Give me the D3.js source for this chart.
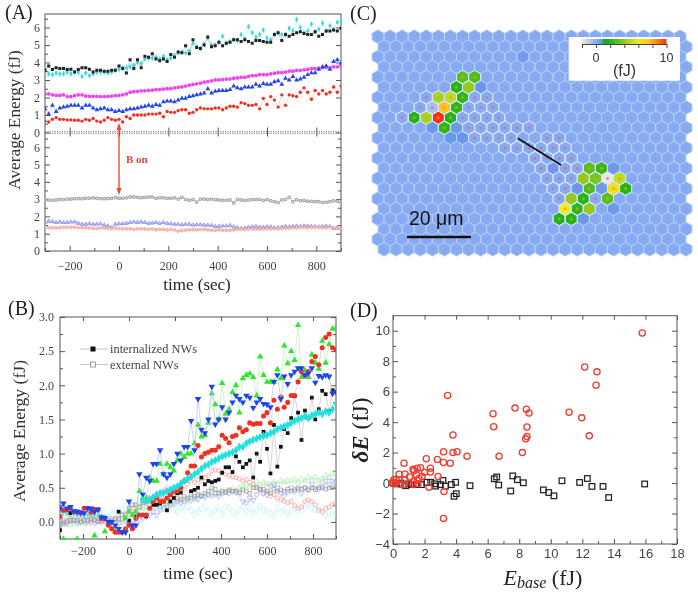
<!DOCTYPE html>
<html><head><meta charset="utf-8">
<script src="https://cdnjs.cloudflare.com/ajax/libs/d3/7.8.5/d3.min.js"></script>
<style>html,body{margin:0;padding:0;background:#fff}svg{display:block;filter:blur(.3px)}
.ser{font-family:"Liberation Serif",serif}.san{font-family:"Liberation Sans",sans-serif}</style>
</head><body><svg id="c" width="698" height="596"></svg>
<script>
// ---------- Panel A ----------
const aBlack=[3.55,3.8,3.6,3.7,3.65,3.65,3.6,3.62,3.45,3.6,3.7,3.7,3.62,3.45,3.55,3.55,3.5,3.5,3.55,3.55,3.8,3.65,3.4,4.15,3.65,4.15,3.7,4.35,4.3,4.5,4.2,4.1,4.2,4.05,4.45,4.3,4.6,4.55,4.95,4.5,5.3,4.85,4.8,5.0,5.45,4.9,4.95,5.15,4.95,5.1,5.15,5.3,5.3,5.2,5.3,5.2,5.1,5.25,5.25,5.2,5.15,5.15,5.6,5.7,5.25,5.6,5.5,5.6,5.7,5.75,5.65,5.6,5.6,5.75,5.5,5.6,5.8,5.8,5.85,5.8,5.95];
const aCyan=[3.2,3.35,3.3,3.4,3.35,3.35,3.45,3.35,3.45,3.45,3.2,3.4,3.25,3.35,3.45,3.45,3.45,3.4,3.45,3.55,3.6,3.7,3.7,3.75,3.85,4.0,3.95,4.2,4.25,4.25,4.3,4.2,4.35,4.15,4.25,4.4,4.55,4.6,4.55,4.65,5.1,4.9,4.8,5.05,5.4,5.0,5.0,5.15,5.5,5.1,5.2,5.3,5.25,5.6,5.35,6.05,5.7,5.45,5.6,5.85,5.4,5.3,5.6,5.7,5.6,5.6,5.95,5.8,6.45,6.0,5.7,5.8,6.2,5.75,5.9,6.25,5.8,6.1,5.9,6.3,6.4];
const aMagenta=[2.2,2.2,2.15,2.12,2.12,2.15,2.05,2.05,2.1,2.15,2.15,2.08,2.07,2.07,2.07,2.05,2.05,2.07,2.08,2.1,2.12,2.15,2.2,2.3,2.33,2.35,2.38,2.38,2.4,2.42,2.45,2.45,2.48,2.5,2.5,2.55,2.58,2.6,2.65,2.7,2.75,2.78,2.82,2.88,2.9,2.95,3.0,3.0,3.02,3.05,3.05,3.1,3.12,3.15,3.15,3.2,3.25,3.25,3.3,3.3,3.3,3.35,3.38,3.42,3.42,3.45,3.5,3.5,3.55,3.55,3.58,3.6,3.65,3.65,3.68,3.7,3.72,3.7,3.75,3.75,3.8];
const aBlue=[1.35,1.05,1.55,1.2,1.4,1.45,1.5,1.55,1.55,1.55,1.4,1.55,1.55,1.4,1.3,1.35,1.4,1.3,1.3,1.2,1.25,1.2,1.3,1.35,1.35,1.4,1.45,1.5,1.55,1.5,1.6,1.55,1.75,1.8,1.8,1.75,1.85,1.95,1.95,2.05,2.1,2.15,2.2,2.25,2.5,2.25,2.35,2.4,2.4,2.4,2.45,2.65,2.55,2.5,2.6,2.6,2.6,2.75,2.65,2.8,2.75,2.75,2.9,2.95,2.75,3.1,3.0,3.2,3.0,3.05,3.15,3.3,3.4,3.4,3.6,3.75,3.8,3.6,4.05,4.15,3.95];
const aRed=[0.65,0.6,0.75,0.85,0.75,0.75,0.72,0.72,0.7,0.7,0.65,0.75,0.7,0.8,0.65,0.6,0.7,0.85,0.75,0.7,0.75,0.6,0.9,0.8,1.0,1.0,1.0,1.0,1.05,1.05,1.05,1.1,0.9,1.2,1.15,1.15,1.25,1.3,1.3,1.1,1.15,1.3,1.4,1.35,1.35,1.35,1.4,1.4,1.3,1.4,1.5,1.5,1.45,1.7,1.65,1.55,1.55,1.6,1.35,1.95,1.6,2.05,1.85,1.45,2.15,1.55,2.15,2.1,2.05,2.3,2.55,2.3,1.9,2.4,2.2,2.4,2.2,2.3,2.6,2.3,2.65];
const aGrayLow=[2.95,2.95,2.93,2.95,2.98,2.97,3.0,3.0,3.02,3.03,3.02,3.05,3.05,3.07,3.05,3.03,3.02,3.03,3.05,3.08,3.05,3.05,3.07,3.12,3.12,3.1,3.08,3.1,3.12,3.12,3.05,3.08,3.07,3.05,3.05,3.07,3.0,3.1,2.98,2.93,2.98,2.83,3.0,3.0,2.98,3.0,2.97,2.95,2.93,2.93,2.95,2.78,2.98,2.95,2.92,2.95,2.97,2.97,2.98,2.92,2.97,2.9,2.85,2.8,2.95,2.98,3.1,2.85,2.97,2.9,2.92,2.88,2.87,2.85,2.85,2.8,2.82,2.85,2.9,2.88,2.78];
const aBlueLow=[1.65,1.72,1.7,1.65,1.68,1.65,1.65,1.68,1.68,1.6,1.55,1.55,1.58,1.55,1.55,1.58,1.5,1.45,1.35,1.55,1.57,1.58,1.6,1.65,1.68,1.65,1.68,1.65,1.6,1.62,1.65,1.6,1.65,1.6,1.58,1.55,1.55,1.52,1.55,1.55,1.5,1.52,1.53,1.5,1.5,1.48,1.42,1.42,1.45,1.45,1.48,1.4,1.35,1.3,1.33,1.38,1.4,1.42,1.38,1.38,1.4,1.4,1.35,1.35,1.38,1.42,1.4,1.42,1.45,1.42,1.45,1.45,1.42,1.42,1.4,1.42,1.45,1.42,1.3,1.35,1.3];
const aRedLow=[1.4,1.35,1.35,1.33,1.35,1.37,1.37,1.37,1.37,1.35,1.35,1.35,1.33,1.3,1.3,1.33,1.33,1.3,1.3,1.32,1.3,1.28,1.28,1.28,1.25,1.28,1.28,1.27,1.25,1.27,1.23,1.25,1.25,1.22,1.25,1.22,1.15,1.18,1.2,1.23,1.23,1.22,1.25,1.25,1.22,1.2,1.2,1.22,1.2,1.2,1.2,1.22,1.25,1.27,1.25,1.27,1.28,1.28,1.27,1.27,1.3,1.28,1.3,1.28,1.3,1.32,1.32,1.35,1.33,1.37,1.37,1.35,1.37,1.38,1.38,1.35,1.35,1.38,1.35,1.3,1.28];
const aErrCyan=0.22, aErrBlack=0.08;
const timeTicks=[-200,0,200,400,600,800];
const aUpperTicks=[0,1,2,3,4,5,6], aLowerTicks=[0,1,2,3,4,5,6];
// ---------- Panel B ----------
const _=null;
const bBlack=[-.12,_,_,.13,_,_,_,_,_,_,_,_,_,_,_,-.1,_,.15,_,_,.02,_,.08,.1,.1,.08,_,.25,.25,.27,_,.17,.3,.35,.42,.43,_,_,.45,.47,.5,.65,.55,.6,.58,.6,.62,.72,.8,.8,.73,.96,.88,.8,.85,.9,.65,1.0,.88,1.32,1.07,.71,1.42,.81,1.1,1.36,1.3,1.52,1.84,1.6,1.2,1.63,1.52,1.82,1.5,1.65,1.92,1.87,1.62,1.93,1.9];
const bRed=[.08,.17,.18,.2,.15,.15,.13,.2,.2,.14,.18,.18,.05,.05,-.05,-.1,-.15,-.15,-.15,-.1,-.05,-.1,.05,.1,.1,.1,.2,.3,.35,.3,.3,.35,.4,.45,.45,.5,.6,.72,.82,.82,1.12,.95,1.0,1.02,1.05,1.05,1.1,1.27,1.22,1.16,1.25,1.27,1.38,1.32,1.35,1.45,1.43,1.44,1.44,1.55,1.6,1.45,1.78,1.65,1.83,1.68,1.75,1.85,1.85,2.05,2.2,2.15,2.2,2.35,2.42,2.3,2.55,2.7,2.75,2.55,2.52];
const bGreen=[_,-.25,_,_,_,-.25,_,_,_,_,-.2,_,_,-.14,_,_,-.14,-.15,_,.05,.15,.1,.15,.45,.35,.35,.65,.6,.6,.85,.7,.85,.8,.75,.9,1.0,.95,1.0,1.0,1.15,1.42,1.25,1.27,1.45,1.88,1.72,1.5,2.03,1.58,1.65,1.9,2.0,1.6,2.1,2.15,2.17,2.12,1.85,2.42,2.15,2.05,2.05,2.05,2.23,2.1,2.58,2.32,2.5,2.37,2.88,2.12,2.22,2.12,2.45,2.33,2.24,2.65,2.33,2.6,2.83,2.83];
const bBlueDn=[.2,.27,.2,.22,.16,.15,.14,.13,.2,.2,.15,.18,.07,.06,0,0,-.05,-.1,-.15,-.15,.3,-.05,-.05,.7,.4,.65,.6,.85,.85,1.05,.7,.65,.7,.85,1.0,.9,1.1,1.1,1.48,1.05,1.8,1.35,1.3,1.5,1.98,1.43,1.5,1.68,1.5,1.6,1.75,1.85,1.8,1.75,1.85,1.82,1.67,1.75,1.8,1.73,1.72,1.68,2.05,2.15,1.8,2.13,2.02,2.15,2.2,2.25,2.25,2.15,2.18,2.25,2.04,2.14,2.12,2.15,2.13,1.88,1.9];
const bCyanEarly=[.15,.14,.13,.12,.12,.11,.1,.1,.11,.09,.09,.1,.08,.06,_,_,_,_,_,_,_,_,_,_,_,_,_,_,_,_,_,_,_,_,_,_,_,_,_,_,_,_,_,_,_,_,_,_,_,_,_,_,_,_,_,_,_,_,_,_,_,_,_,_,_,_,_,_,_,_,_,_,_,_,_,_,_,_,_,_,_];
const bCyan=[_,_,_,_,_,_,_,_,_,_,_,_,_,_,_,_,_,_,_,_,_,_,_,_,.32,.31,.33,.36,.4,.42,.42,.45,.47,.5,.52,.56,.6,.63,.66,.7,.73,.78,.82,.84,.88,.9,.93,.96,.98,1.0,1.02,1.05,1.1,1.1,1.15,1.18,1.2,1.22,1.24,1.26,1.27,1.3,1.32,1.36,1.38,1.4,1.42,1.45,1.48,1.5,1.52,1.55,1.52,1.56,1.58,1.6,1.58,1.62,1.6,1.65,1.73];
const bExtBlack=[-.05,-.03,0,.02,.03,.02,0,.03,.02,.05,.03,0,.02,.05,.02,0,.03,.05,.1,.12,.2,.25,.25,.22,.28,.3,.3,.28,.3,.33,.32,.3,.35,.38,.35,.33,.38,.35,.4,.38,.4,.38,.42,.45,.5,.48,.42,.45,.43,.47,.45,.45,.43,.47,.45,.42,.5,.5,.47,.48,.45,.42,.48,.45,.47,.45,.48,.45,.47,.5,.48,.5,.47,.5,.47,.5,.5,.48,.5,.5,.52];
const bExtRed=[.02,.03,.02,.05,.02,.03,.05,.02,0,.03,.02,.05,.03,.0,-.02,.02,.05,.03,.05,.1,.15,.2,.25,.22,.3,.27,.35,.33,.4,.42,.45,.5,.45,.5,.52,.55,.48,.55,.6,.58,.62,.6,.65,.68,.75,.76,.75,.72,.7,.68,.66,.65,.63,.6,.62,.58,.55,.5,.48,.42,.45,.38,.4,.35,.32,.3,.28,.3,.24,.2,.22,.3,.32,.3,.25,.17,.15,.2,.22,.25,.27];
const bExtGreen=[-.03,-.02,0,-.04,-.02,.02,0,-.03,-.02,.02,.03,0,.02,.03,.05,.03,.05,.08,.1,.08,.12,.15,.18,.2,.2,.22,.2,.22,.25,.22,.25,.28,.27,.25,.3,.32,.3,.33,.35,.33,.38,.4,.38,.4,.42,.4,.42,.45,.43,.45,.48,.45,.5,.52,.55,.52,.55,.58,.55,.57,.55,.55,.58,.55,.6,.58,.6,.6,.62,.58,.62,.6,.65,.62,.65,.6,.62,.68,.65,.7,.72];
const bExtBlue=[.02,0,-.02,.03,.02,-.02,0,.02,.03,.0,-.02,.02,0,.02,.02,.05,.0,-.02,.0,.02,-.03,-.02,.05,.03,.06,.08,.1,.15,.1,.18,.2,.22,.25,.28,.3,.28,.3,.33,.32,.35,.33,.38,.36,.4,.38,.42,.38,.42,.45,.42,.45,.43,.42,.3,.28,.35,.32,.4,.48,.42,.4,.52,.55,.5,.42,.38,.45,.5,.45,.48,.42,.5,.47,.55,.5,.48,.53,.6,.55,.6,.58];
const bExtCyan=[.1,.08,.12,.1,.05,.08,.1,.12,.08,.05,.1,.08,.12,.1,.08,.12,.15,.13,.18,.22,.2,.25,.28,.25,.22,.27,.25,.2,.22,.18,.2,.25,.22,.18,.15,.2,.18,.22,.17,.12,.15,.2,.22,.15,.1,.18,.2,.12,.22,.2,.14,.1,.18,.22,.15,.2,.12,.18,.22,.17,.15,.12,.1,.2,.14,.18,.1,.15,.2,.16,.18,.22,.25,.2,.18,.22,.15,.1,.14,.1,.13];
const bXTicks=[-200,0,200,400,600,800];
const bYTicks=[0,.5,1,1.5,2,2.5,3];
const bLegendLabels=["internalized NWs","external NWs"];
// ---------- Panel C ----------
const rowCount=22, colCount=26;
const colorDomain=[-2,-1,0,.8,1.2,2,4,6,7.5,10];
const colorRange=["#e8e8e8","#c4cde4","#86abf2","#5c97f2","#10ad10","#20b61a","#8fcc20","#ecec20","#ffc51f","#ff3010"];
const hotCells=[[4,7,3],[4,8,2.8],[5,6,2],[5,7,4],[5,8,.7],[6,5,4.5],[6,6,5],[6,7,2.2],[7,5,7.5],[7,6,2.2],[7,4,-.6],[8,3,2],[8,4,4.5],[8,5,10],[8,6,2],[9,4,.7],[9,5,2.2],[9,6,.6],[10,6,.7],[10,7,.7],[13,14,.6],[13,17,3],[13,18,2.4],[13,19,.6],[14,17,4],[14,18,3.5],[14,19,-2],[14,20,5],[15,16,.7],[15,17,2.8],[15,18,.6],[15,19,6.5],[15,20,2],[16,16,4],[16,17,2],[16,19,3],[17,15,6],[17,16,2.2],[17,17,4],[17,19,.6],[18,15,1.8],[18,16,2],[18,17,.7],[2,12,.5]];
const outlinedCells=[[6,4],[6,8],[6,9],[7,3],[7,4],[7,7],[7,8],[7,9],[8,2],[8,7],[8,8],[8,9],[8,10],[9,7],[9,8],[9,9],[9,10],[9,11],[9,12],[10,8],[10,9],[10,10],[10,11],[10,14],[10,15],[11,10],[11,11],[11,12],[11,13],[11,14],[11,15],[12,13],[12,14],[12,15],[12,16],[13,13],[13,15],[13,16],[14,14],[14,15],[14,16],[15,14],[15,15],[16,15],[16,18]];
const barTicks=[-2,0,2,4,6,8,10], barLabels=[0,10];
// ---------- Panel D ----------
const dRedX=[15.8,12.15,12.93,12.87,3.46,6.34,6.38,7.73,8.45,8.62,8.49,8.49,8.41,11.16,11.96,12.44,3.8,4.69,6.72,8.2,4.06,3.8,3.2,2.11,2.81,3.2,3.63,.7,1.27,1.33,1.54,1.75,2.37,2.37,2.0,1.84,2.85,.38,.76,.76,.38,.2,.05,1.05,1.48,1.3,1.56,.15,0,.46,.74,1.27,1.58,2.28,3.23,3.2,1.65,0];
const dRedY=[9.85,7.62,7.3,6.42,5.75,4.55,3.7,4.92,4.85,4.6,3.68,3.05,2.9,4.65,4.28,3.1,3.15,1.76,1.76,2.0,2.05,2.0,2.05,1.6,1.55,1.35,1.3,1.3,.9,.8,.97,1.0,.97,.72,.7,.43,.43,.58,.6,.2,.2,.25,.22,.4,.55,.1,.17,0,.05,-.1,-.1,-.1,-.05,-.28,-.55,-2.32,.3,0];
const dBlackX=[.8,1.48,1.8,2.15,2.39,2.64,2.7,3.0,3.17,3.32,3.7,3.97,4.01,3.87,4.88,6.42,6.57,6.7,7.46,7.59,7.88,8.26,9.53,9.87,10.2,10.71,11.83,12.32,12.61,13.31,13.67,15.95,0,.2,.5,1,1.2];
const dBlackY=[-.17,-.1,-.1,.05,.05,-.05,-.2,-.1,.17,-.2,-.1,.05,-.7,-.87,-.17,.28,.4,-.13,-.52,.47,.22,.02,-.45,-.62,-.84,.15,.04,.3,-.22,-.22,-.95,-.06,0,-.05,0,-.05,-.1];
const dXTicks=[0,2,4,6,8,10,12,14,16,18];
const dYTicks=[-4,-2,0,2,4,6,8,10];

const svg=d3.select("#c");
const AX="#555", TX="#444";
const times=a=>a.map((v,i)=>-300+i*1200/(a.length-1));
function box(x0,x1,y0,y1){svg.append("rect").attr("x",x0).attr("y",y0).attr("width",x1-x0).attr("height",y1-y0).attr("fill","none").attr("stroke",AX).attr("stroke-width",1);}
function frameAxis(gen,tx,ty,showText,cls,fs){
  const g=svg.append("g").attr("transform",`translate(${tx},${ty})`).call(gen);
  g.select(".domain").remove();
  g.selectAll("line").attr("stroke",AX);
  g.selectAll("text").attr("class",cls).attr("fill",TX).style("font-size",fs+"px");
  if(!showText)g.selectAll("text").remove();
  return g;
}
function clean(g){g.select(".domain").remove();g.selectAll("line").attr("stroke",AX);}
function ticksAll(x,y,x0,x1,y0,y1,xMaj,xMin,yMaj,yMin,cls,fs,xFmt,yFmt,xPad,yPad){
  frameAxis(d3.axisBottom(x).tickValues(xMaj).tickSize(-5).tickPadding(xPad).tickFormat(xFmt),0,y1,true,cls,fs);
  frameAxis(d3.axisBottom(x).tickValues(xMin).tickSize(-3).tickFormat(""),0,y1,false);
  svg.append("g").attr("transform",`translate(0,${y0})`).call(d3.axisTop(x).tickValues(xMaj).tickSize(-4).tickFormat("")).call(clean);
  frameAxis(d3.axisLeft(y).tickValues(yMaj).tickSize(-5).tickPadding(yPad).tickFormat(yFmt),x0,0,true,cls,fs);
  frameAxis(d3.axisLeft(y).tickValues(yMin).tickSize(-3).tickFormat(""),x0,0,false);
  svg.append("g").attr("transform",`translate(${x1},0)`).call(d3.axisRight(y).tickValues(yMaj).tickSize(-5).tickFormat("")).call(clean);
  svg.append("g").attr("transform",`translate(${x1},0)`).call(d3.axisRight(y).tickValues(yMin).tickSize(-3).tickFormat("")).call(clean);
}
function series(vals,x,y,clipId,o){
  const g=svg.append("g").attr("clip-path",`url(#${clipId})`);
  const ts=times(vals);
  const pts=vals.map((v,i)=>[ts[i],v]).filter(d=>d[1]!==null);
  if(o.line)g.append("path").attr("fill","none").attr("stroke",o.line).attr("stroke-width",o.lw||.6).attr("opacity",o.lo||1)
    .attr("d",d3.line().defined(d=>d[1]!==null).x(d=>x(d[0])).y(d=>y(d[1]))(vals.map((v,i)=>[ts[i],v])));
  if(o.err)g.selectAll(null).data(pts).join("line").attr("x1",d=>x(d[0])).attr("x2",d=>x(d[0])).attr("y1",d=>y(d[1]-o.err)).attr("y2",d=>y(d[1]+o.err)).attr("stroke",o.errColor).attr("stroke-width",.6);
  const sym=d3.symbol().type(o.sym).size(o.size);
  g.selectAll(null).data(pts).join("path").attr("d",sym()).attr("transform",d=>`translate(${x(d[0])},${y(d[1])})${o.rot?" rotate(180)":""}`)
   .attr("fill",o.fill).attr("stroke",o.stroke||"none").attr("stroke-width",o.sw||0).attr("opacity",o.op||1);
}
function clip(id,x0,x1,y0,y1){svg.append("clipPath").attr("id",id).append("rect").attr("x",x0).attr("y",y0).attr("width",x1-x0).attr("height",y1-y0);}
function txt(t,x,y,size,cls,o={}){const e=svg.append("text").attr("x",x).attr("y",y).attr("class",cls).style("font-size",size+"px").attr("fill",o.fill||"#222").attr("text-anchor",o.anchor||"start").text(t);
 if(o.rotate)e.attr("transform",`rotate(-90 ${x} ${y})`);if(o.weight)e.style("font-weight",o.weight);return e;}

// ===== Panel A =====
{
 const x0=45,x1=341,yT=14,yM=132.5,yB=251;
 const x=d3.scaleLinear([-300,900],[x0,x1]);
 const yU=d3.scaleLinear([0,6.77],[yM,yT]);
 const yL=d3.scaleLinear([0,6.85],[yB,yM]);
 clip("clipAU",x0,x1,yT,yM);clip("clipAL",x0,x1,yM,yB);
 box(x0,x1,yT,yB);
 ticksAll(x,yL,x0,x1,yM,yB,timeTicks,[-300,-100,100,300,500,700,900],aLowerTicks,[.5,1.5,2.5,3.5,4.5,5.5,6.5],"ser",12,d3.format("d"),d3.format("d"),10,5);
 frameAxis(d3.axisLeft(yU).tickValues(aUpperTicks).tickSize(-5).tickPadding(5).tickFormat(d3.format("d")),x0,0,true,"ser",12);
 frameAxis(d3.axisLeft(yU).tickValues([.5,1.5,2.5,3.5,4.5,5.5,6.5]).tickSize(-3).tickFormat(""),x0,0,false);
 svg.append("g").attr("transform",`translate(${x1},0)`).call(d3.axisRight(yU).tickValues(aUpperTicks).tickSize(-5).tickFormat("")).call(clean);
 svg.append("g").attr("transform",`translate(0,${yM})`).call(d3.axisBottom(x).tickValues(timeTicks).tickSize(-5).tickFormat("")).call(clean);
 [-.8,.8].forEach(d=>svg.append("line").attr("x1",x0).attr("x2",x1).attr("y1",yM+d).attr("y2",yM+d).attr("stroke","#777").attr("stroke-dasharray","1.2 1.2"));
 const S=d3.symbolSquare,C=d3.symbolCircle,T=d3.symbolTriangle,D=d3.symbolDiamond;
 series(aCyan,x,yU,"clipAU",{sym:D,size:9,fill:"#30dcdc",line:"#b5f2f2",err:aErrCyan,errColor:"#cdf6f6"});
 series(aBlack,x,yU,"clipAU",{sym:S,size:9,fill:"#222",line:"#aaa",err:aErrBlack,errColor:"#ccc"});
 series(aMagenta,x,yU,"clipAU",{sym:C,size:11,fill:"#ee44ee",line:"#f4b8f4"});
 series(aBlue,x,yU,"clipAU",{sym:T,size:10,fill:"#2244ee",line:"#aab5f4"});
 series(aRed,x,yU,"clipAU",{sym:C,size:9,fill:"#f03020",line:"#f7b5b0"});
 series(aGrayLow,x,yL,"clipAL",{sym:S,size:6,fill:"#e4e4e4",stroke:"#8a8a8a",sw:.7,line:"#aaa"});
 series(aBlueLow,x,yL,"clipAL",{sym:T,size:6,fill:"#c8ccf8",stroke:"#7c82ee",sw:.7,line:"#aab0f4"});
 series(aRedLow,x,yL,"clipAL",{sym:C,size:6,fill:"#fbd0cb",stroke:"#f29288",sw:.8,line:"#f7b5ae"});
 const ar=svg.append("g").attr("stroke","#ee4a30").attr("fill","#ee4a30");
 ar.append("line").attr("x1",x(0)).attr("x2",x(0)).attr("y1",127).attr("y2",191).attr("stroke-width",1.4);
 ar.append("path").attr("stroke","none").attr("d",`M${x(0)},123 l-2.5,7 h5 z M${x(0)},195 l-2.5,-7 h5 z`);
 txt("B on",126,163,11,"ser",{fill:"#e8452f",weight:"bold"});
 txt("(A)",5,19,20,"ser");
 txt("Average Energy (fJ)",20,120,17.3,"ser",{rotate:true,anchor:"middle",fill:"#333"});
 txt("time (sec)",197,290,17,"ser",{anchor:"middle"});
}
// ===== Panel B =====
{
 const x0=60,x1=336,yT=317,yB=539;
 const x=d3.scaleLinear([-300,900],[x0,x1]);
 const y=d3.scaleLinear([-.25,3],[yB,yT]);
 clip("clipB",x0,x1,yT,yB+1);
 box(x0,x1,yT,yB);
 ticksAll(x,y,x0,x1,yT,yB,bXTicks,[-300,-100,100,300,500,700,900],bYTicks,[.25,.75,1.25,1.75,2.25,2.75],"ser",12,d3.format("d"),d3.format(".1f"),7,6);
 const S=d3.symbolSquare,C=d3.symbolCircle,T=d3.symbolTriangle,D=d3.symbolDiamond;
 series(bCyanEarly,x,y,"clipB",{sym:D,size:16,fill:"#30dcdc",line:"#9beeee"});
 series(bExtCyan,x,y,"clipB",{sym:D,size:18,fill:"none",stroke:"#c4f2f2",sw:.7,line:"#d8f8f8"});
 series(bExtGreen,x,y,"clipB",{sym:T,size:14,fill:"none",stroke:"#a8eca8",sw:.7,line:"#d0f5d0"});
 series(bExtRed,x,y,"clipB",{sym:C,size:14,fill:"none",stroke:"#f7aaa4",sw:.8,line:"#fad4d0"});
 series(bExtBlue,x,y,"clipB",{sym:T,rot:true,size:14,fill:"none",stroke:"#a8aef4",sw:.7,line:"#d4d6f9"});
 series(bExtBlack,x,y,"clipB",{sym:S,size:13,fill:"none",stroke:"#999",sw:.7,line:"#ccc"});
 series(bBlack,x,y,"clipB",{sym:S,size:14,fill:"#111",line:"#bbb"});
 series(bGreen,x,y,"clipB",{sym:T,size:18,fill:"#2ce82c",line:"#a8f2a8"});
 series(bRed,x,y,"clipB",{sym:C,size:20,fill:"#f03020",line:"#f9bdb8"});
 series(bBlueDn,x,y,"clipB",{sym:T,rot:true,size:18,fill:"#1e44ee",line:"#aab5f4"});
 series(bCyan,x,y,"clipB",{sym:D,size:22,fill:"#22e0e0"});
 [[349,true],[364.5,false]].forEach(([ly,filled],i)=>{
  svg.append("line").attr("x1",80).attr("x2",108).attr("y1",ly).attr("y2",ly).attr("stroke","#aaa").attr("stroke-width",.7);
  svg.append("rect").attr("x",90.5).attr("y",ly-2.5).attr("width",5).attr("height",5).attr("fill",filled?"#111":"#fff").attr("stroke",filled?"none":"#777").attr("stroke-width",.7);
  txt(bLegendLabels[i],110,ly+4,12.4,"ser",{fill:"#444"});
 });
 txt("(B)",8,315,20,"ser");
 txt("Average Energy (fJ)",25,431,17.6,"ser",{rotate:true,anchor:"middle",fill:"#333"});
 txt("time (sec)",198,579,17.5,"ser",{anchor:"middle"});
}
// ===== Panel C =====
{
 const color=d3.scaleLinear(colorDomain,colorRange);
 const rowScale=d3.scaleLinear([0,rowCount-1],[36.7,249.3]);
 const colScale=d3.scaleLinear([0,colCount-1],[378,680]);
 const hot=new Map(hotCells.map(d=>[d[0]+"_"+d[1],d[2]]));
 const outl=new Set(outlinedCells.map(d=>d[0]+"_"+d[1]));
 const r=6.95;
 const hexPts=d3.range(6).map(i=>{const a=Math.PI/3*i+Math.PI/6;return [r*Math.cos(a),r*Math.sin(a)];});
 const hexPath=d3.line().curve(d3.curveLinearClosed)(hexPts);
 const cells=[];
 d3.range(rowCount).forEach(rw=>d3.range(colCount).forEach(cl=>cells.push({rw,cl,v:hot.get(rw+"_"+cl),o:outl.has(rw+"_"+cl)})));
 const g=svg.append("g");
 const pos=d=>`translate(${colScale(d.cl)+(d.rw%2?6:0)},${rowScale(d.rw)})`;
 g.selectAll(null).data(cells).join("path").attr("d",hexPath).attr("transform",pos)
  .attr("fill",d=>d.v===undefined?"#86abf2":color(d.v)).attr("stroke","#c0d2f8").attr("stroke-width",.9);
 g.selectAll(null).data(cells.filter(d=>d.o||d.v!==undefined&&d.v>1)).join("path").attr("d",hexPath).attr("transform",pos)
  .attr("fill","none").attr("stroke","#dfe8fc").attr("stroke-width",.9);
 g.selectAll(null).data(cells).join("circle").attr("transform",pos).attr("r",d=>d.o||d.v!==undefined?1.5:.8)
  .attr("fill",d=>d.v!==undefined&&d.v>1?"#e0a020":"#d86a90").attr("opacity",d=>d.o||d.v!==undefined?.75:.45);
 svg.append("rect").attr("x",568.7).attr("y",37).attr("width",111.3).attr("height",43.7).attr("fill","#fff");
 const bx=d3.scaleLinear([-2,10],[582,666.5]);
 const grad=svg.append("defs").append("linearGradient").attr("id","cg");
 colorDomain.forEach((d,i)=>grad.append("stop").attr("offset",(d+2)/12).attr("stop-color",colorRange[i]));
 svg.append("rect").attr("x",582).attr("y",39).attr("width",84.5).attr("height",5).attr("fill","url(#cg)");
 const la=svg.append("g").attr("transform","translate(0,44)").call(d3.axisBottom(bx).tickValues(barTicks).tickSize(4).tickSizeOuter(0).tickFormat(""));
 la.selectAll("line,path").attr("stroke","#444");
 barLabels.forEach(v=>txt(v,bx(v),62,12.5,"san",{anchor:"middle",fill:"#333"}));
 txt("(fJ)",624.5,76,16,"san",{anchor:"middle",fill:"#333"});
 svg.append("line").attr("x1",517.7).attr("y1",138.3).attr("x2",561).attr("y2",165).attr("stroke","#111").attr("stroke-width",1.7);
 svg.append("line").attr("x1",407).attr("x2",471).attr("y1",237).attr("y2",237).attr("stroke","#111").attr("stroke-width",2.6);
 txt("20 μm",409,225,19.5,"san",{fill:"#111"});
 txt("(C)",350,20,20,"ser");
}
// ===== Panel D =====
{
 const x0=393,x1=677,yT=315.7,yB=544;
 const x=d3.scaleLinear([0,18],[x0,x1]);
 const y=d3.scaleLinear([-4,10],[yB,330.7]);
 box(x0,x1,yT,yB);
 ticksAll(x,y,x0,x1,yT,yB,dXTicks,[1,3,5,7,9,11,13,15,17],dYTicks,[-3,-1,1,3,5,7,9],"san",13,d3.format("d"),d3.format("d"),5,3);
 svg.append("g").selectAll("rect").data(dBlackX.map((d,i)=>[d,dBlackY[i]])).join("rect")
  .attr("x",d=>x(d[0])-2.8).attr("y",d=>y(d[1])-2.8).attr("width",5.6).attr("height",5.6).attr("fill","none").attr("stroke","#222").attr("stroke-width",1.25);
 svg.append("g").selectAll("circle").data(dRedX.map((d,i)=>[d,dRedY[i]])).join("circle")
  .attr("cx",d=>x(d[0])).attr("cy",d=>y(d[1])).attr("r",3.1).attr("fill","none").attr("stroke","#f03c30").attr("stroke-width",1.3);
 txt("(D)",350,317,20,"ser");
 const yl=svg.append("text").attr("class","ser").attr("transform","translate(368,430) rotate(-90)").attr("text-anchor","middle").style("font-size","23px").attr("fill","#222");
 yl.append("tspan").style("font-style","italic").style("font-weight","bold").text("δE");yl.append("tspan").text(" (fJ)");
 const xl=svg.append("text").attr("class","ser").attr("x",543).attr("y",585).attr("text-anchor","middle").style("font-size","22px").attr("fill","#222");
 xl.append("tspan").style("font-style","italic").text("E");
 xl.append("tspan").style("font-style","italic").style("font-size","16px").attr("dy",3).text("base");
 xl.append("tspan").attr("dy",-3).text(" (fJ)");
}
</script></body></html>
